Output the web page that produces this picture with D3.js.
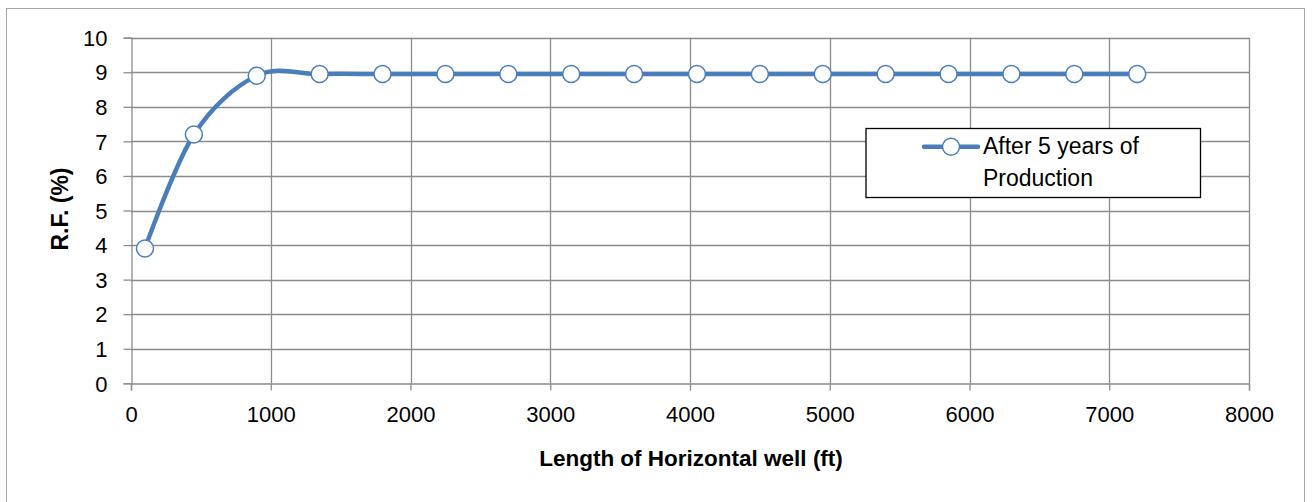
<!DOCTYPE html>
<html>
<head>
<meta charset="utf-8">
<script src="https://cdn.jsdelivr.net/npm/d3@7"></script>
<style>
html,body{margin:0;padding:0;background:#fff;}
svg{display:block;font-family:"Liberation Sans",Arial,sans-serif;}
</style>
</head>
<body>
<svg id="chart" width="1314" height="502"></svg>
<script>
const lengths = [100, 450, 900, 1350, 1800, 2250, 2700, 3150, 3600, 4050, 4500, 4950, 5400, 5850, 6300, 6750, 7200];
const rfValues = [3.9, 7.2, 8.9, 8.95, 8.95, 8.95, 8.95, 8.95, 8.95, 8.95, 8.95, 8.95, 8.95, 8.95, 8.95, 8.95, 8.95];
const xTicks = [0, 1000, 2000, 3000, 4000, 5000, 6000, 7000, 8000];
const yTicks = [0, 1, 2, 3, 4, 5, 6, 7, 8, 9, 10];
const seriesName = ["After 5 years of", "Production"];
const xTitle = "Length of Horizontal well (ft)";
const yTitle = "R.F. (%)";

const svg = d3.select("#chart");
const blue = "#4A7EBB";
const grid = "#8c8c8c";

// outer border
svg.append("rect").attr("x", 6.5).attr("y", 8.5).attr("width", 1298).attr("height", 520)
  .attr("fill", "none").attr("stroke", "#a6a6a6").attr("stroke-width", 1);

const x = d3.scaleLinear().domain([0, 8000]).range([131, 1249]);
const y = d3.scaleLinear().domain([0, 10]).range([383.3, 37.7]);

// gridlines
svg.append("g").selectAll("line.h").data(yTicks.filter(d => d > 0)).join("line")
  .attr("x1", x(0)).attr("x2", x(8000))
  .attr("y1", d => Math.round(y(d)) + 0.5).attr("y2", d => Math.round(y(d)) + 0.5)
  .attr("stroke", grid).attr("stroke-width", 1.3);
svg.append("g").selectAll("line.v").data(xTicks.filter(d => d > 0)).join("line")
  .attr("x1", d => Math.round(x(d)) + 0.5).attr("x2", d => Math.round(x(d)) + 0.5)
  .attr("y1", y(0)).attr("y2", y(10))
  .attr("stroke", grid).attr("stroke-width", 1.3);

// axes
const xAxis = d3.axisBottom(x).tickValues(xTicks).tickSize(7).tickPadding(16).tickFormat(d3.format("d"));
const yAxis = d3.axisLeft(y).tickValues(yTicks).tickSize(8).tickPadding(16).tickFormat(d3.format("d"));

const gx = svg.append("g").attr("transform", `translate(0,${Math.round(y(0)) + 0.5})`).call(xAxis);
const gy = svg.append("g").attr("transform", `translate(${Math.round(x(0)) + 0.5},0)`).call(yAxis);
[gx, gy].forEach(g => {
  g.select(".domain").attr("stroke", grid).attr("stroke-width", 1.3);
  g.selectAll(".tick line").attr("stroke", grid).attr("stroke-width", 1.3);
  g.selectAll(".tick text").attr("fill", "#000").style("font-size", "22px")
    .style("font-family", "'Liberation Sans', Arial, sans-serif");
});
gx.selectAll(".tick text").attr("dy", "0.71em");
gy.selectAll(".tick text").attr("dy", "0.35em");

// axis titles
svg.append("text").attr("x", 691).attr("y", 466).attr("text-anchor", "middle")
  .style("font-size", "22.5px").style("font-weight", "bold").attr("fill", "#000").text(xTitle);
svg.append("text").attr("transform", "translate(68,209) rotate(-90)").attr("text-anchor", "middle")
  .style("font-size", "23px").style("font-weight", "bold").attr("fill", "#000").text(yTitle);

// line
const data = lengths.map((l, i) => ({x: l, y: rfValues[i]}));
const line = d3.line().x(d => x(d.x)).y(d => y(d.y)).curve(d3.curveCardinal.tension(0));
svg.append("path").datum(data).attr("d", line).attr("fill", "none")
  .attr("stroke", blue).attr("stroke-width", 4.5).attr("stroke-linejoin", "round");

svg.append("g").selectAll("circle").data(data).join("circle")
  .attr("cx", d => x(d.x)).attr("cy", d => y(d.y)).attr("r", 8.5)
  .attr("fill", "#fff").attr("stroke", blue).attr("stroke-width", 1.5);

// legend
const lg = svg.append("g");
lg.append("rect").attr("x", 866).attr("y", 128.5).attr("width", 334.5).attr("height", 69)
  .attr("fill", "#fff").attr("stroke", "#000").attr("stroke-width", 1.3);
lg.append("line").attr("x1", 924).attr("x2", 978).attr("y1", 146.7).attr("y2", 146.7)
  .attr("stroke", blue).attr("stroke-width", 4.5).attr("stroke-linecap", "round");
lg.append("circle").attr("cx", 951).attr("cy", 146.7).attr("r", 8.5)
  .attr("fill", "#fff").attr("stroke", blue).attr("stroke-width", 1.5);
lg.append("text").attr("x", 983).attr("y", 154).style("font-size", "23px").attr("fill", "#000").text(seriesName[0]);
lg.append("text").attr("x", 983).attr("y", 186).style("font-size", "23px").attr("fill", "#000").text(seriesName[1]);
</script>
</body>
</html>
